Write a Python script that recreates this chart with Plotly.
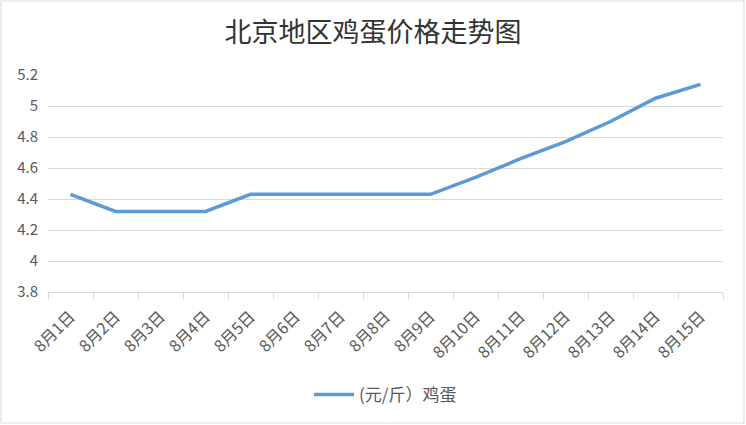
import plotly.graph_objects as go

dates = ["8月1日", "8月2日", "8月3日", "8月4日", "8月5日", "8月6日", "8月7日", "8月8日",
         "8月9日", "8月10日", "8月11日", "8月12日", "8月13日", "8月14日", "8月15日"]
prices = [4.43, 4.32, 4.32, 4.32, 4.43, 4.43, 4.43, 4.43, 4.43, 4.54, 4.66, 4.77, 4.90, 5.05, 5.14]
series_name = "(元/斤）鸡蛋"
title_text = "北京地区鸡蛋价格走势图"

FONT = "Noto Sans CJK SC"
W, H = 746, 425
L, R, T, B = 48, 23, 75, 133
pw, ph = W - L - R, H - T - B

fig = go.Figure()
fig.add_trace(go.Scatter(
    x=dates, y=prices, mode="lines", name=series_name,
    line=dict(color="#5B9BD5", width=3.5),
))

fig.update_layout(
    width=W, height=H,
    margin=dict(l=L, r=R, t=T, b=B),
    paper_bgcolor="white", plot_bgcolor="white",
    font=dict(family=FONT, color="#595959", size=15),
    title=dict(text=title_text, x=0.5, xanchor="center", y=1 - 33 / H, yanchor="middle",
               font=dict(family=FONT, size=27, color="#333333")),
    showlegend=True,
    legend=dict(orientation="h", x=0.5, xanchor="center", y=-(395 - (T + ph)) / ph, yanchor="middle",
                font=dict(family=FONT, size=17, color="#595959"), itemwidth=40),
    xaxis=dict(
        type="category", showgrid=False, showline=True, linecolor="#D9D9D9", linewidth=1,
        ticks="outside", tickson="boundaries", ticklen=6, tickcolor="#D9D9D9",
        tickangle=-45, tickfont=dict(family=FONT, size=16, color="#595959"),
        ticklabelstandoff=8,
        range=[-0.5, len(dates) - 0.5], zeroline=False,
    ),
    yaxis=dict(
        range=[3.8, 5.2], dtick=0.2, tick0=3.8, showgrid=True, gridcolor="#D9D9D9", gridwidth=1,
        showline=False, zeroline=False, ticks="", tickfont=dict(family=FONT, size=15, color="#595959"),
        ticklabelstandoff=9,
    ),
    shapes=[dict(
        type="rect", xref="paper", yref="paper",
        x0=(1 - L) / pw, x1=(W - 2 - L) / pw,
        y0=-(H - 2 - (T + ph)) / ph, y1=(T + ph - 1) / ph,
        line=dict(color="#D9D9D9", width=1), fillcolor="rgba(0,0,0,0)", layer="below",
    )],
)

fig.write_html("out.html", config={"displayModeBar": False},
               post_script="document.body.style.margin='0';document.body.style.overflow='hidden';")
